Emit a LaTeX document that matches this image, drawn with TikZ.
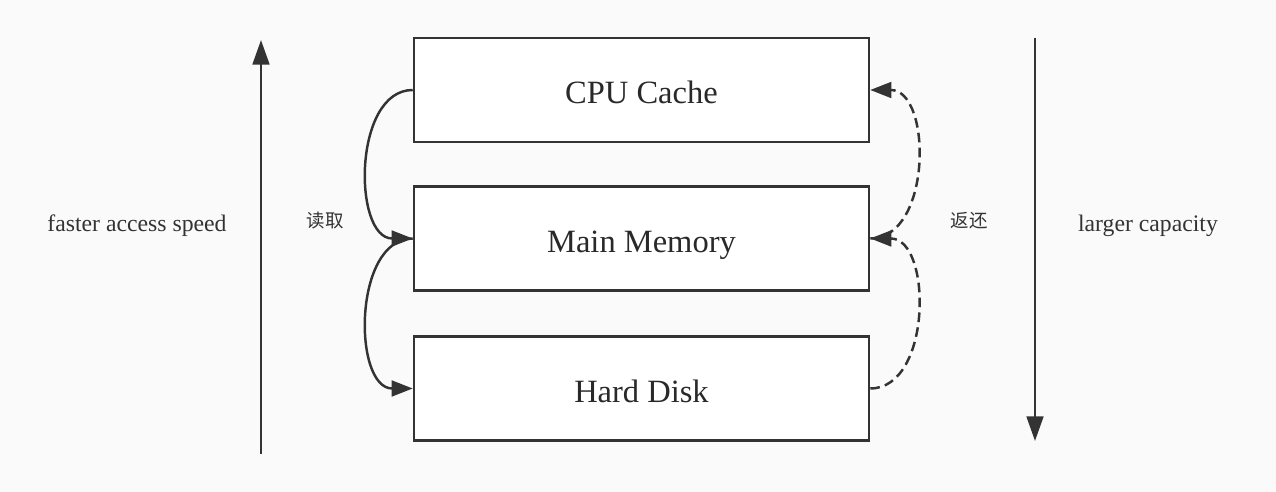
\documentclass[tikz,border=0pt]{standalone}
\usepackage{fontspec}
\setmainfont{Liberation Serif}
\newfontfamily\cjk{Noto Sans CJK SC}
\usetikzlibrary{arrows.meta}
\definecolor{ink}{HTML}{333333}
\definecolor{paper}{HTML}{FAFAFA}
\begin{document}
\begin{tikzpicture}[x=0.02cm,y=-0.02cm,
  layer/.style={draw=ink,fill=white,line width=1.5pt,minimum width=9.1cm,minimum height=2.08cm,
    inner sep=0pt,text height=15.5pt,text depth=0pt,
    font=\fontsize{18.5}{22}\selectfont,text=ink!80!black},
  side/.style={text=ink,text height=10.8pt,text depth=0pt,font=\fontsize{13.5}{16}\selectfont},
  note/.style={text=ink,font=\cjk\fontsize{10.5}{12}\selectfont},
  tip/.style={-{Triangle[length=12pt,width=9pt]}},
  link/.style={draw=ink,line width=1.4pt,tip},
  back/.style={link,dash pattern=on 5.5pt off 3pt}]
  % canvas
  \fill[paper] (0,0) rectangle (1276,492);
  \useasboundingbox (0,0) rectangle (1276,492);

  % memory hierarchy
  \node[layer] (cpu) at (641.5,90) {CPU Cache};
  \node[layer] (mem) at (641.5,238.5) {Main Memory};
  \node[layer] (disk) at (641.5,388.5) {Hard Disk};

  % speed and capacity axes
  \coordinate (sb) at (261,454);
  \coordinate (st) at (261,40);
  \coordinate (ct) at (1035,38);
  \coordinate (cb) at (1035,441);
  \draw[ink,line width=1.5pt,-{Triangle[length=14pt,width=9.5pt]}] (sb) -- (st);
  \draw[ink,line width=1.5pt,-{Triangle[length=14pt,width=9.5pt]}] (ct) -- (cb);

  \node[side] (speed) at (137,222) {faster access speed};
  \node[side] (cap) at (1148,222) {larger capacity};

  % read path (left) and write-back path (right)
  \draw[link] (cpu.west) .. controls +(-60,0) and +(-60,0) .. (mem.west);
  \draw[link] (mem.west) .. controls +(-60,0) and +(-60,0) .. (disk.west);
  \draw[back] (disk.east) .. controls +(62,0) and +(62,0) .. (mem.east);
  \draw[back] (mem.east) .. controls +(62,0) and +(62,0) .. (cpu.east);

  \node[note] (rd) at (325,221) {读取};
  \node[note] (wb) at (969,221) {返还};
\end{tikzpicture}
\end{document}
